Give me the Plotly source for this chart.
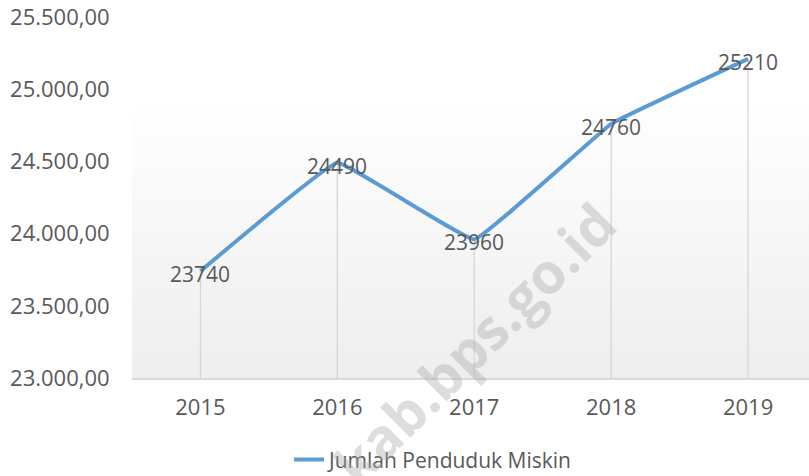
import base64
import plotly.graph_objects as go

years = ["2015", "2016", "2017", "2018", "2019"]
values = [23740, 24490, 23960, 24760, 25210]
series_name = "Jumlah Penduduk Miskin"
y_min, y_max, y_step = 23000, 25500, 500

FONT = "Open Sans"
TXT = "#595959"

# drop lines from each point down to the axis base
drop_x, drop_y = [], []
for yr, v in zip(years, values):
    drop_x += [yr, yr, None]
    drop_y += [v, y_min, None]

fig = go.Figure()
fig.add_trace(go.Scatter(
    x=drop_x, y=drop_y, mode="lines",
    line=dict(color="#d6d6d6", width=1.3),
    showlegend=False, hoverinfo="skip"))
fig.add_trace(go.Scatter(
    x=years, y=values, name=series_name,
    mode="lines",
    line=dict(color="#5B9BD5", width=4, shape="spline", smoothing=0.2)))

# data labels centred on the points (category index positions)
annotations = [dict(x=i, y=v, xref="x", yref="y", text=str(v), showarrow=False,
                    xanchor="center", yanchor="middle", yshift=-3,
                    font=dict(family=FONT, size=21, color=TXT))
               for i, v in enumerate(values)]

annotations.append(dict(text="<b>kab.bps.go.id</b>", xref="paper", yref="paper",
                        x=0.505, y=0.097, xanchor="center", yanchor="middle",
                        showarrow=False, textangle=-45,
                        font=dict(family=FONT, size=56, color="rgba(170,170,170,0.4)")))

svg = ('<svg xmlns="http://www.w3.org/2000/svg" width="100" height="100" preserveAspectRatio="none">'
       '<defs><linearGradient id="g" x1="0" y1="0" x2="0" y2="1">'
       '<stop offset="0" stop-color="#ffffff"/><stop offset="0.22" stop-color="#ffffff"/>'
       '<stop offset="1" stop-color="#eeeeee"/></linearGradient></defs>'
       '<rect width="100" height="100" fill="url(#g)"/></svg>')
src = "data:image/svg+xml;base64," + base64.b64encode(svg.encode()).decode()

fig.update_layout(
    width=809, height=476,
    margin=dict(l=132, r=0, t=17, b=98, autoexpand=False),
    paper_bgcolor="white", plot_bgcolor="rgba(0,0,0,0)",
    separators=",.",
    font=dict(family=FONT, size=21, color=TXT),
    images=[dict(source=src, xref="paper", yref="paper", x=0, y=1,
                 sizex=1, sizey=1, sizing="stretch", layer="below")],
    showlegend=True,
    legend=dict(orientation="h", x=0.232, y=-0.227, xanchor="left", yanchor="middle",
                font=dict(family=FONT, size=21, color=TXT), bgcolor="rgba(0,0,0,0)"),
    xaxis=dict(type="category", range=[-0.5, 4.445], showgrid=False,
               showline=True, linecolor="#d9d9d9", linewidth=1.5,
               ticks="outside", ticklen=9, tickcolor="rgba(0,0,0,0)",
               tickfont=dict(family=FONT, size=22, color=TXT), zeroline=False),
    yaxis=dict(range=[y_min, y_max], dtick=y_step, tick0=y_min, tickformat=",.2f",
               showgrid=False, showline=False, zeroline=False,
               ticks="outside", ticklen=17, tickcolor="rgba(0,0,0,0)",
               tickfont=dict(family=FONT, size=22, color=TXT)),
    annotations=annotations,
)

fig.write_html("out.html", config={"displayModeBar": False},
               post_script="document.body.style.margin='0';document.body.style.overflow='hidden';")
